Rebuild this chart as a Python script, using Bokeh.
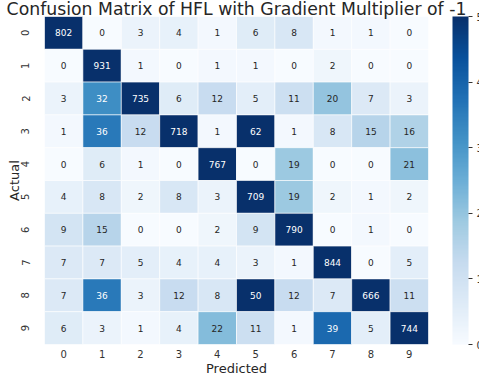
import numpy as np
from bokeh.plotting import figure
from bokeh.models import ColumnDataSource, LinearColorMapper, ColorBar, FixedTicker
from bokeh.palettes import Blues256
from bokeh.transform import transform
from bokeh.core.properties import value
from bokeh.embed import file_html
from bokeh.resources import INLINE

# ---- data ----
class_labels = ["0", "1", "2", "3", "4", "5", "6", "7", "8", "9"]
row_0 = [802, 0, 3, 4, 1, 6, 8, 1, 1, 0]
row_1 = [0, 931, 1, 0, 1, 1, 0, 2, 0, 0]
row_2 = [3, 32, 735, 6, 12, 5, 11, 20, 7, 3]
row_3 = [1, 36, 12, 718, 1, 62, 1, 8, 15, 16]
row_4 = [0, 6, 1, 0, 767, 0, 19, 0, 0, 21]
row_5 = [4, 8, 2, 8, 3, 709, 19, 2, 1, 2]
row_6 = [9, 15, 0, 0, 2, 9, 790, 0, 1, 0]
row_7 = [7, 7, 5, 4, 4, 3, 1, 844, 0, 5]
row_8 = [7, 36, 3, 12, 8, 50, 12, 7, 666, 11]
row_9 = [6, 3, 1, 4, 22, 11, 1, 39, 5, 744]
matrix_rows = [row_0, row_1, row_2, row_3, row_4, row_5, row_6, row_7, row_8, row_9]
color_low = 0
color_high = 50
colorbar_ticks = [0, 10, 20, 30, 40, 50]
title_text = "Confusion Matrix of HFL with Gradient Multiplier of -1"
x_label = "Predicted"
y_label = "Actual"

FONT = "DejaVu Sans"
palette = list(reversed(Blues256))
mapper = LinearColorMapper(palette=palette, low=color_low, high=color_high)


def rel_lum(hexcol):
    rgb = [int(hexcol[k:k + 2], 16) / 255.0 for k in (1, 3, 5)]
    lin = [c / 12.92 if c <= 0.03928 else ((c + 0.055) / 1.055) ** 2.4 for c in rgb]
    return 0.2126 * lin[0] + 0.7152 * lin[1] + 0.0722 * lin[2]


xs, ys, vals, txt, tcol = [], [], [], [], []
for i, row in enumerate(matrix_rows):
    for j, v in enumerate(row):
        xs.append(class_labels[j])
        ys.append(class_labels[i])
        vals.append(v)
        txt.append(str(v))
        frac = (min(max(v, color_low), color_high) - color_low) / (color_high - color_low)
        idx = min(int(frac * len(palette)), len(palette) - 1)
        tcol.append("#262626" if rel_lum(palette[idx]) > 0.408 else "#ffffff")

src = ColumnDataSource(dict(x=xs, y=ys, v=vals, t=txt, tc=tcol))

p = figure(
    x_range=class_labels,
    y_range=list(reversed(class_labels)),
    width=479, height=380,
    min_border_left=44, min_border_right=51, min_border_top=16, min_border_bottom=36,
    output_backend="svg", toolbar_location=None,
    title=title_text,
)

p.title.align = "center"
p.title.vertical_align = "top"
p.title.standoff = -8
p.title.text_font = FONT
p.title.text_font_size = "17.3px"
p.title.text_font_style = "normal"
p.title.text_color = "#262626"

p.rect(x="x", y="y", width=1, height=1, source=src,
       fill_color=transform("v", mapper), line_color="white", line_width=0.6)
p.text(x="x", y="y", text="t", source=src, text_color="tc",
       text_align="center", text_baseline="middle",
       text_font_size="9px", text_font=value(FONT))

p.grid.grid_line_color = None
p.outline_line_color = None
for ax in (p.xaxis, p.yaxis):
    ax.axis_line_color = None
    ax.major_tick_line_color = None
    ax.minor_tick_line_color = None
    ax.major_tick_out = 0
    ax.major_tick_in = 0
    ax.major_label_text_font = FONT
    ax.major_label_text_font_size = "10px"
    ax.major_label_text_color = "#333333"
    ax.axis_label_text_font = FONT
    ax.axis_label_text_font_size = "13px"
    ax.axis_label_text_font_style = "normal"
    ax.axis_label_text_color = "#262626"

p.xaxis.axis_label = x_label
p.yaxis.axis_label = y_label
p.xaxis.major_label_standoff = 5
p.xaxis.axis_label_standoff = 0
p.yaxis.major_label_standoff = 15
p.yaxis.axis_label_standoff = -3
p.yaxis.major_label_orientation = "vertical"

cb = ColorBar(
    color_mapper=mapper, location=(408, 0), width=16, height=328,
    padding=0, margin=0,
    ticker=FixedTicker(ticks=colorbar_ticks),
    major_tick_in=0, major_tick_out=4, major_tick_line_color="#333333",
    minor_tick_line_color=None,
    bar_line_color=None, border_line_color=None, background_fill_alpha=0,
    major_label_text_font=FONT, major_label_text_font_size="10px",
    major_label_text_color="#333333", label_standoff=4,
)
p.add_layout(cb, "center")

open("out.html", "w").write(file_html(p, INLINE))
